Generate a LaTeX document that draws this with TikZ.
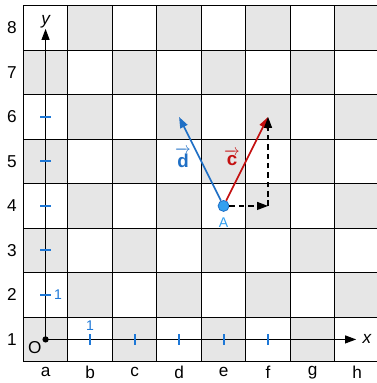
\documentclass[tikz,border=0pt]{standalone}
\usepackage{fontspec}
\setmainfont{Liberation Sans}
\usepackage{amsmath}
\usetikzlibrary{arrows.meta, positioning, calc}
\definecolor{darksq}{HTML}{E6E6E6}
\definecolor{tickblue}{HTML}{1E78D7}
\definecolor{vecblue}{HTML}{1F6FC5}
\definecolor{vecred}{HTML}{C41010}
\definecolor{ptblue}{HTML}{33A0F0}
\tikzset{%
   % square labels along the board
   boardlabel/.style={font=\fontsize{11}{13}\selectfont, inner sep=0pt},
   axis/.style={line width=0.8pt, -{Triangle[length=7pt, width=5pt]}},
   tick/.style={tickblue, line width=1.3pt},
   ticklabel/.style={tickblue, font=\fontsize{9}{10}\selectfont, inner sep=0pt},
   vec/.style={line width=1.1pt, -{Triangle[length=7pt, width=5pt]}},
   dashvec/.style={line width=1pt, dash pattern=on 3.5pt off 2.5pt, -{Triangle[length=7pt, width=5pt]}},
   ptdot/.style={
      circle,
      draw=vecblue,
      fill=ptblue,
      inner sep=0pt,
      minimum size=7pt,
      line width=0.5pt
   },
}
\begin{document}
\begin{tikzpicture}
    \useasboundingbox (-0.524,-0.479) rectangle (7.948,8.128);
    % board
    \foreach \i in {0,...,7}
      \foreach \j in {0,...,7}{
        \pgfmathparse{int(mod(\i+\j,2))}
        \ifnum\pgfmathresult=0
          \fill[darksq] (\i,\j) rectangle ++(1,1);
        \fi
      }
    \draw[line width=0.8pt] (0,0) grid (8,8);
    \foreach \f [count=\k from 0] in {a,b,c,d,e,f,g,h}
      \node[boardlabel] (file\f) at (\k+0.5,-0.236) {\f};
    \foreach \r in {1,...,8}
      \node[boardlabel] (rank\r) at (-0.254,\r-0.5) {\r};
    % axes
    \coordinate (O) at (0.5,0.5);
    \coordinate (xend) at (7.48,0.5);
    \coordinate (yend) at (0.5,7.48);
    \node (xlab) at (7.72,0.5) {\fontsize{11}{13}\selectfont\itshape x};
    \node (ylab) at (0.5,7.64) {\fontsize{11}{13}\selectfont\itshape y};
    \draw[axis] (O) -- (xend);
    \draw[axis] (O) -- (yend);
    \fill (O) circle (2pt);
    \node[boardlabel] (Olab) at (0.26,0.31) {O};
    \foreach \t in {1,...,5}{
      \draw[tick] (\t+0.5,0.38) -- (\t+0.5,0.62);
      \draw[tick] (0.38,\t+0.5) -- (0.62,\t+0.5);
    }
    \node[ticklabel] (xone) at (1.5,0.8) {1};
    \node[ticklabel] (yone) at (0.78,1.5) {1};
    % vectors
    \node[ptdot] (A) at (4.5,3.5) {};
    \node[ptblue, font=\fontsize{9}{10}\selectfont] (Alab) at (4.5,3.13) {A};
    \coordinate (d6) at (3.5,5.5);
    \coordinate (f6) at (5.5,5.5);
    \coordinate (f4) at (5.5,3.5);
    \draw[vec, vecblue] (A) -- (d6);
    \draw[vec, vecred] (A) -- (f6);
    \draw[dashvec] (A) -- (f4);
    \draw[dashvec] (f4) -- (f6);
    \node[vecblue, inner sep=0pt] (dlab) at (3.59,4.58) {$\overrightarrow{\textbf{\fontsize{12}{14}\selectfont d}}$};
    \node[vecred, inner sep=0pt] (clab) at (4.69,4.58) {$\overrightarrow{\textbf{\fontsize{12}{14}\selectfont c}}$};
\end{tikzpicture}
\end{document}
